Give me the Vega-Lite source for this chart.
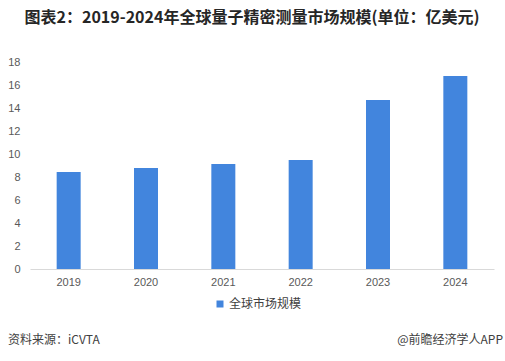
{
  "$schema": "https://vega.github.io/schema/vega-lite/v6.json",
  "width": 464,
  "height": 207,
  "autosize": "none",
  "padding": {"left": 30, "top": 62, "right": 11, "bottom": 92},
  "background": "white",
  "title": {
    "text": "图表2：2019-2024年全球量子精密测量市场规模(单位：亿美元)",
    "font": "Noto Sans CJK SC",
    "fontSize": 16,
    "fontWeight": "bold",
    "color": "#262626",
    "anchor": "middle",
    "dx": -10,
    "offset": 30
  },
  "config": {
    "view": {"stroke": null},
    "font": "Noto Sans CJK SC"
  },
  "layer": [
    {
      "data": {
        "values": [
          {"year": "2019", "value": 8.43, "series": "全球市场规模"},
          {"year": "2020", "value": 8.78, "series": "全球市场规模"},
          {"year": "2021", "value": 9.13, "series": "全球市场规模"},
          {"year": "2022", "value": 9.48, "series": "全球市场规模"},
          {"year": "2023", "value": 14.7, "series": "全球市场规模"},
          {"year": "2024", "value": 16.78, "series": "全球市场规模"}
        ]
      },
      "mark": {"type": "bar", "width": 24},
      "encoding": {
        "x": {
          "field": "year",
          "type": "ordinal",
          "title": null,
          "axis": {
            "labelAngle": 0,
            "labelFont": "Liberation Sans",
            "labelFontSize": 11,
            "labelColor": "#595959",
            "labelPadding": 7,
            "ticks": false,
            "domainColor": "#d9d9d9",
            "grid": false
          }
        },
        "y": {
          "field": "value",
          "type": "quantitative",
          "title": null,
          "scale": {"domain": [0, 18]},
          "axis": {
            "values": [0, 2, 4, 6, 8, 10, 12, 14, 16, 18],
            "labelFont": "Liberation Sans",
            "labelFontSize": 11,
            "labelColor": "#595959",
            "labelPadding": 10,
            "ticks": false,
            "domain": false,
            "grid": false
          }
        },
        "color": {
          "field": "series",
          "type": "nominal",
          "scale": {"range": ["#4285DD"]},
          "legend": {
            "title": null,
            "orient": "none",
            "legendX": 184,
            "legendY": 236,
            "symbolType": "square",
            "symbolSize": 49,
            "labelFontSize": 12,
            "labelColor": "#404040",
            "labelOffset": 3
          }
        }
      }
    },
    {
      "data": {"values": [{"label": "资料来源：iCVTA"}]},
      "mark": {"type": "text", "fontSize": 12, "color": "#404040", "baseline": "middle", "align": "left"},
      "encoding": {
        "text": {"field": "label"},
        "x": {"value": -22},
        "y": {"value": 278}
      }
    },
    {
      "data": {"values": [{"label": "@前瞻经济学人APP"}]},
      "mark": {"type": "text", "fontSize": 12, "color": "#404040", "baseline": "middle", "align": "right"},
      "encoding": {
        "text": {"field": "label"},
        "x": {"value": 473},
        "y": {"value": 278}
      }
    }
  ]
}
